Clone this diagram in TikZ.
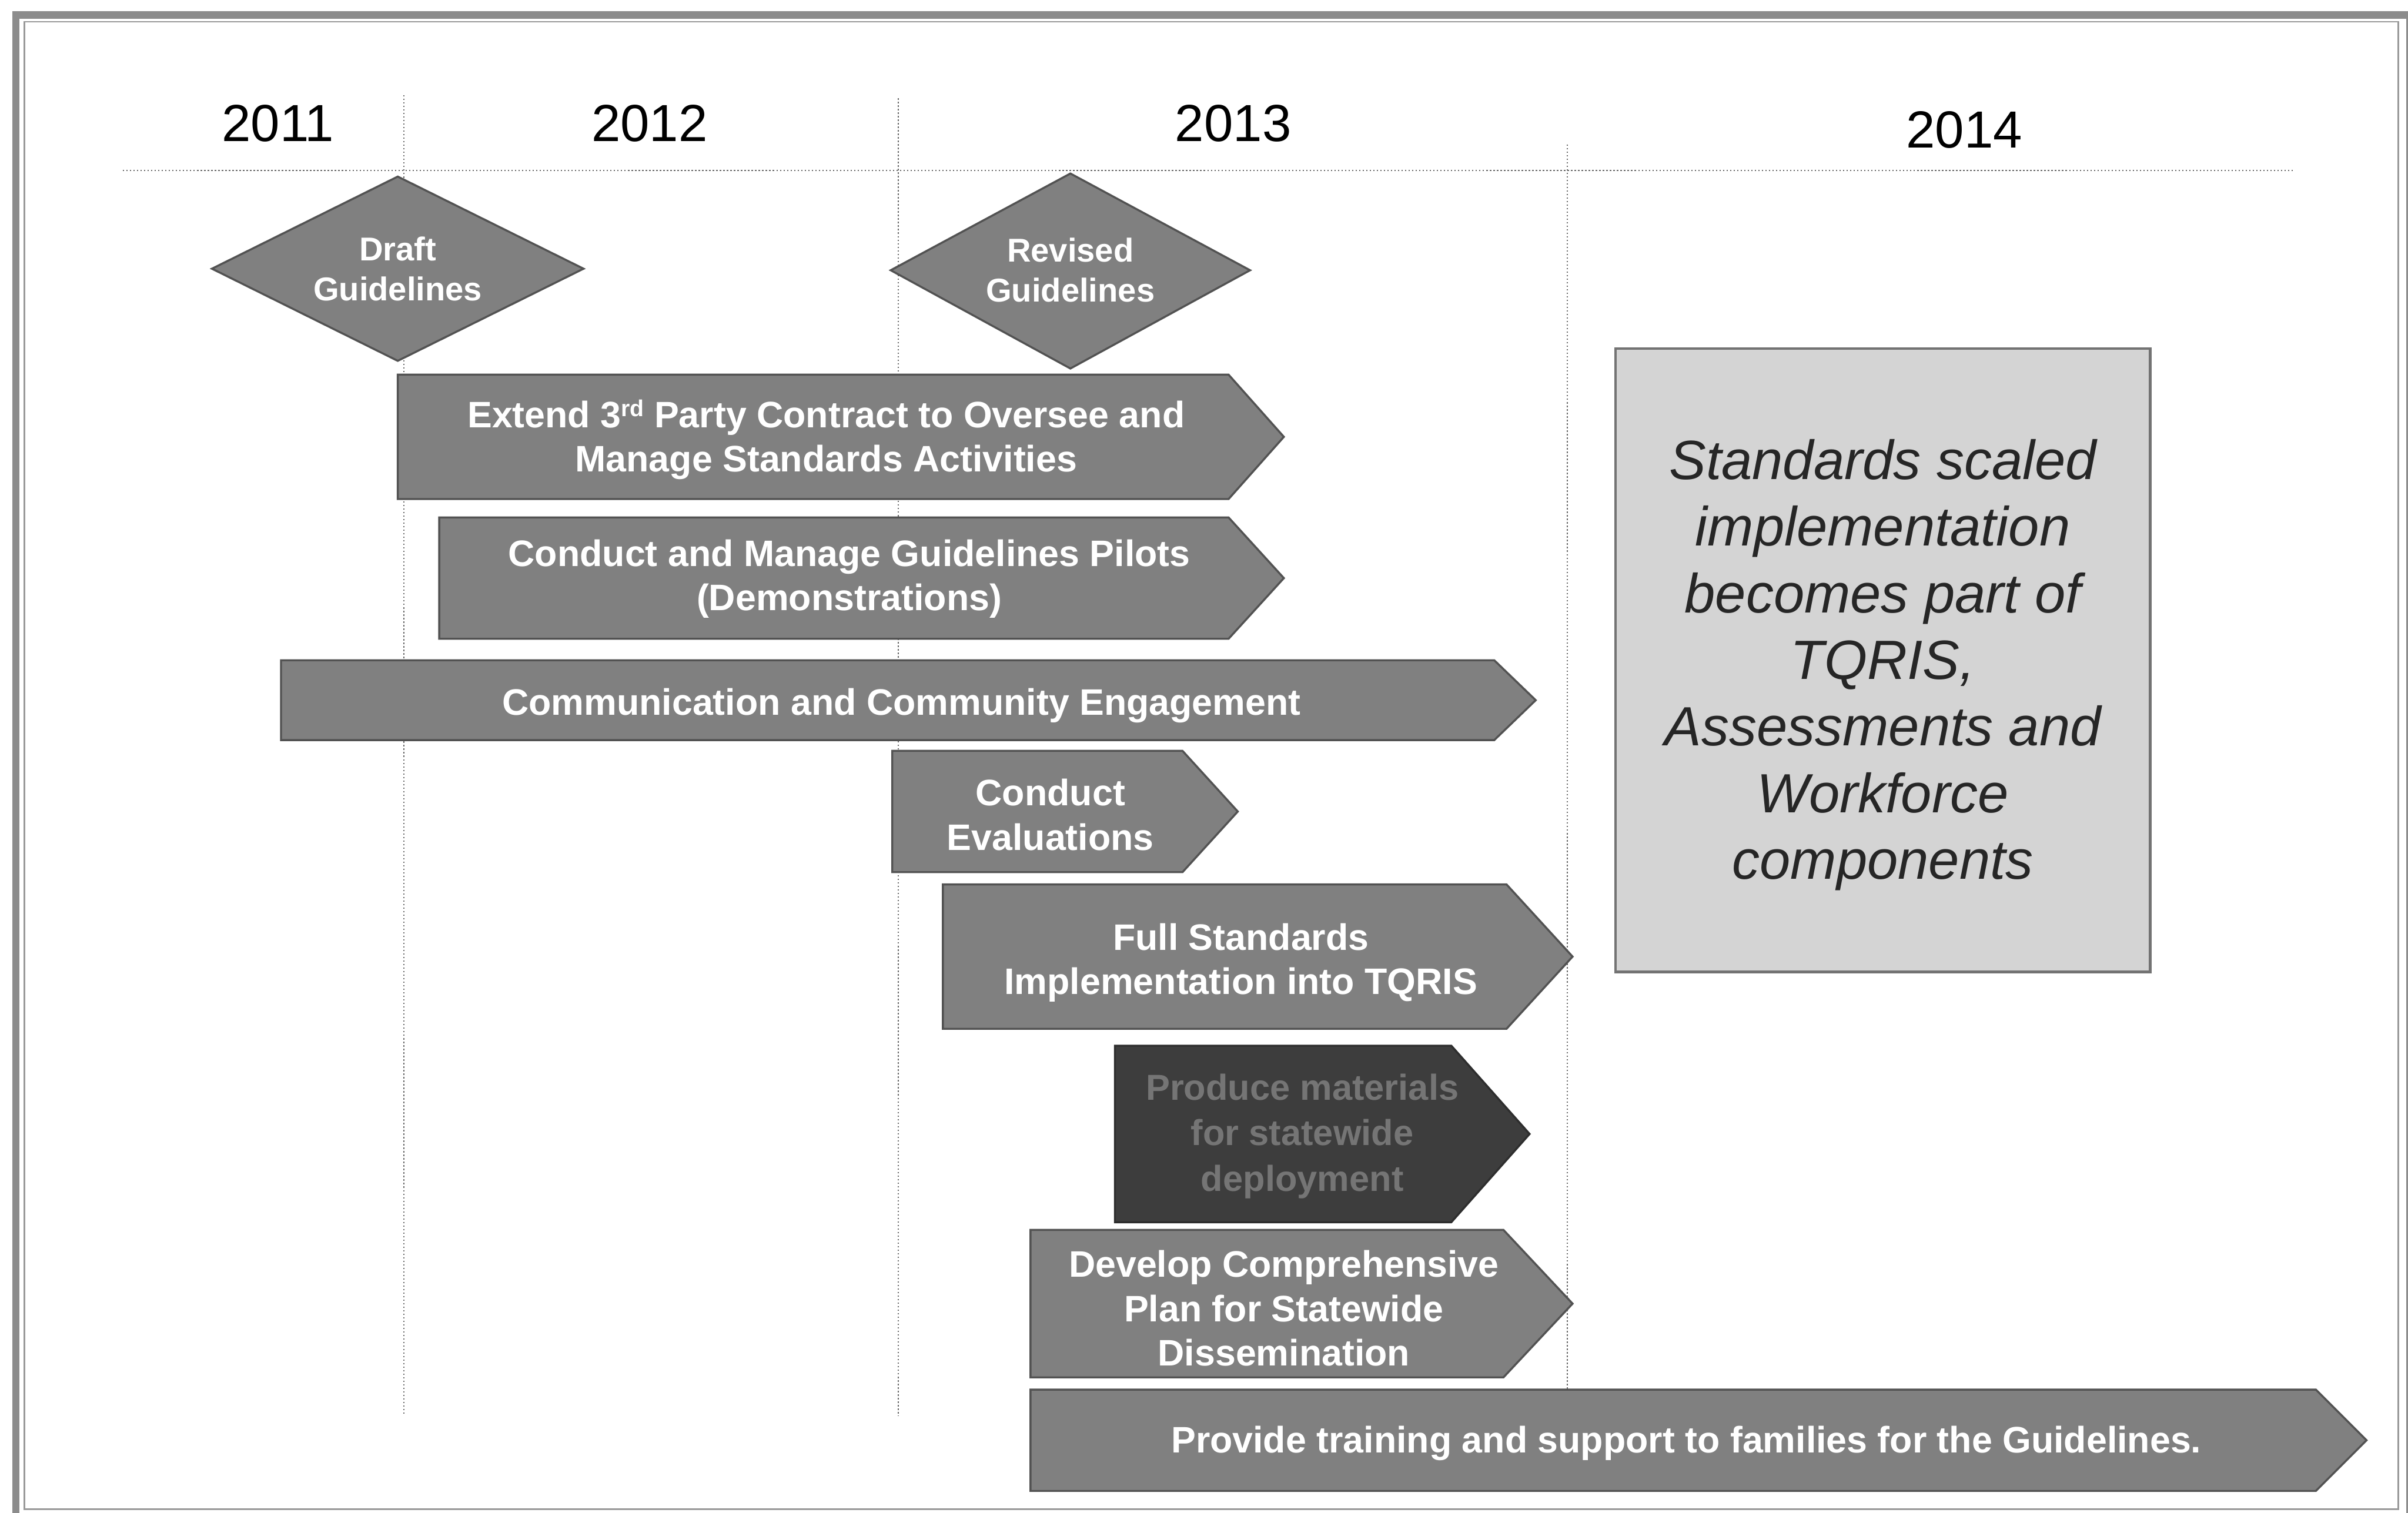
\documentclass[tikz,border=0pt]{standalone}
\usepackage{fontspec}
\setmainfont{Liberation Sans}
% bar with a pointed right end: style, left x, top y, body end x, tip x, bottom y
\newcommand\ganttbar[6]{%
  \draw[#1] (#2,#3) -- (#4,#3) -- (#5,{(#3+#6)/2}) -- (#4,#6) -- (#2,#6) -- cycle;}
\begin{document}
\begin{tikzpicture}[x=1pt,y=-1pt,
  frameband/.style={draw=black!45, line width=4.7pt},
  frameline/.style={draw=black!40, line width=1pt},
  gridline/.style={draw=black!60, line width=0.8pt, dash pattern=on 0.9pt off 1.4pt},
  year/.style={font=\fontsize{34}{40}\selectfont, inner sep=0pt, text=black},
  bar/.style={fill=black!50, draw=black!68, line width=1.3pt, line join=miter},
  darkbar/.style={fill=black!76, draw=black!82, line width=1.3pt, line join=miter},
  milestone/.style={fill=black!50, draw=black!68, line width=1.3pt},
  bartext/.style={text=white, font=\bfseries\fontsize{24}{29}\selectfont, align=center, inner sep=0pt},
  faintext/.style={text=black!54, font=\bfseries\fontsize{23.5}{29.5}\selectfont, align=center, inner sep=0pt},
  mstext/.style={text=white, font=\bfseries\fontsize{21.5}{26}\selectfont, align=center, inner sep=0pt},
  notebox/.style={fill=black!17, draw=black!55, line width=1.8pt},
  notetext/.style={text=black!85, font=\itshape\fontsize{36}{43.4}\selectfont, align=center, inner sep=0pt}
]
\useasboundingbox (0,0) rectangle (1568,985);
\fill[white] (0,0) rectangle (1568,985);

% outer frame
\draw[frameband] (10.2,9.8) rectangle (1569,988);
\draw[frameline] (15.8,14.2) rectangle (1561.7,982.8);

% timeline grid
\draw[gridline] (80,111) -- (1493,111);
\draw[gridline] (263,62) -- (263,922);
\draw[gridline] (585,64) -- (585,922);
\draw[gridline] (1020.6,94) -- (1020.6,905);

% year headings
\node[year] (y2011) at (181,80.5) {2011};
\node[year] (y2012) at (423,80.5) {2012};
\node[year] (y2013) at (803,80.5) {2013};
\node[year] (y2014) at (1279,84.5) {2014};

% milestones
\draw[milestone] (138,175) -- (259,115) -- (380,175) -- (259,235) -- cycle;
\node[mstext] (draft) at (259,175) {Draft\\Guidelines};
\draw[milestone] (580,176) -- (697,113) -- (814,176) -- (697,240) -- cycle;
\node[mstext] (revised) at (697,176) {Revised\\Guidelines};

% activity bars
\ganttbar{bar}{259}{244}{800}{836}{325}
\node[bartext] (extend) at (538,286.5) {Extend 3{\fontsize{15}{15}\selectfont\raisebox{7pt}{rd}} Party Contract to Oversee and\\Manage Standards Activities};

\ganttbar{bar}{286}{337}{800}{836}{416}
\node[bartext] (pilots) at (553,377) {Conduct and Manage Guidelines Pilots\\(Demonstrations)};

\ganttbar{bar}{183}{430}{973}{1000}{482}
\node[bartext] (comm) at (587,459.5) {Communication and Community Engagement};

\ganttbar{bar}{581}{489}{770}{806}{568}
\node[bartext] (evals) at (684,530.5) {Conduct\\Evaluations};

\ganttbar{bar}{614}{576}{981}{1024}{670}
\node[bartext] (tqris) at (808,627) {Full Standards\\Implementation into TQRIS};

\ganttbar{darkbar}{726}{681}{945}{996}{796}
\node[faintext] (produce) at (848,740) {Produce materials\\for statewide\\deployment};

\ganttbar{bar}{671}{801}{979}{1024}{897}
\node[bartext] (plan) at (836,852) {Develop Comprehensive\\Plan for Statewide\\Dissemination};

\ganttbar{bar}{671}{905}{1508}{1541}{971}
\node[bartext] (training) at (1098,940) {Provide training and support to families for the Guidelines.};

% 2014 note
\draw[notebox] (1052,227) rectangle (1400,633);
\node[notetext] (note) at (1226,433) {Standards scaled\\implementation\\becomes part of\\TQRIS,\\Assessments and\\Workforce\\components};
\end{tikzpicture}
\end{document}
